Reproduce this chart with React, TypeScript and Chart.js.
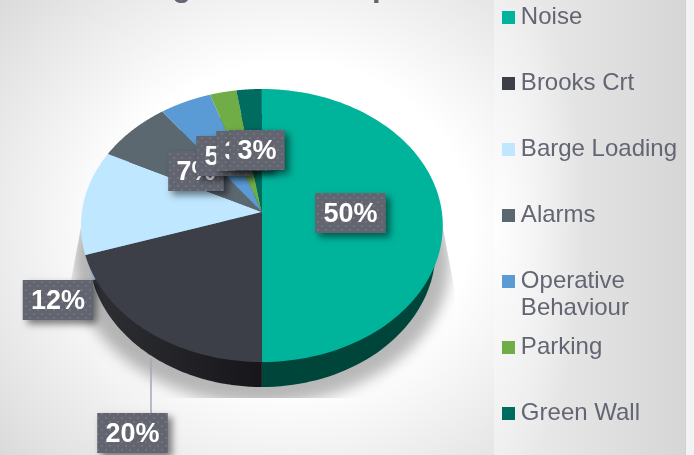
import React, { useEffect, useRef } from "react";
import { Chart, registerables } from "chart.js";

Chart.register(...registerables);

const categories = ["Noise", "Brooks Crt", "Barge Loading", "Alarms", "Operative Behaviour", "Parking", "Green Wall"];
const legendLines = [["Noise", ""], ["Brooks Crt", ""], ["Barge Loading", ""], ["Alarms", ""], ["Operative", "Behaviour"], ["Parking", ""], ["Green Wall", ""]];
const shares = [50, 20, 12.4, 7.4, 5.1, 2.6, 2.5];
const shareLabels = ["50%", "20%", "12%", "7%", "5%", "3%", "3%"];
const faceColors = ["#00b39b", "#3c3f48", "#bfe7ff", "#5c6870", "#5b9bd5", "#70ad47", "#006b5f"];
const wallFrom = ["#00453a", "#303136", "#8fb0c4", "#3c454b", "#3d6a92", "#4b7530", "#004239"];
const wallTo = ["#00453a", "#16161a", "#8fb0c4", "#3c454b", "#3d6a92", "#4b7530", "#004239"];
const labelCentres = [[350.5, 213], [132.5, 433], [58, 300], [196, 171], [224, 156], [244, 151], [257, 150]];
const titleText = "\u00a0\u00a0Ranking of Site Complaints";

const TEXT = "#636672";
const SHIFT_Y = 40;
const LIFT = -18;
const TILT = 0.0989;
const SQUASH = 0.751;
const DEPTH = 25;
const WALL_NARROW = 0.96;
const FONT = "'Liberation Sans', Arial, sans-serif";

function project(el: any, angle: number, narrow = 1, drop = 0) {
  const u = Math.cos(angle);
  const v = Math.sin(angle);
  const w = 1 - TILT * v;
  return {
    x: el.x + (el.outerRadius * u * narrow) / w,
    y: el.y + LIFT + drop + (el.outerRadius * SQUASH * v) / w,
  };
}

function tracePath(ctx: CanvasRenderingContext2D, el: any, narrow = 1, drop = 0) {
  ctx.beginPath();
  ctx.moveTo(el.x, el.y + LIFT + drop);
  const n = 96;
  for (let i = 0; i <= n; i++) {
    const p = project(el, el.startAngle + ((el.endAngle - el.startAngle) * i) / n, narrow, drop);
    ctx.lineTo(p.x, p.y);
  }
  ctx.closePath();
}

function dotPattern(ctx: CanvasRenderingContext2D) {
  const c = document.createElement("canvas");
  c.width = 8;
  c.height = 8;
  const g = c.getContext("2d")!;
  g.fillStyle = "rgba(150,152,165,0.3)";
  g.fillRect(1, 1, 2, 2);
  g.fillRect(5, 5, 2, 2);
  return ctx.createPattern(c, "repeat");
}

function legendSwatch(color: string) {
  const c = document.createElement("canvas");
  c.width = 13;
  c.height = 14;
  const g = c.getContext("2d")!;
  g.fillStyle = color;
  g.fillRect(0, 1, 13, 13);
  return c;
}

const tiltedPie = {
  id: "tiltedPie",
  beforeDatasetDraw(chart: any) {
    const ctx: CanvasRenderingContext2D = chart.ctx;
    const arcs = chart.getDatasetMeta(0).data;
    const c = arcs[0];
    const R = c.outerRadius;
    const top = c.y + LIFT + 10;
    const floor = 398 + SHIFT_Y;

    ctx.save();
    ctx.beginPath();
    ctx.moveTo(c.x - R, top);
    ctx.lineTo(c.x + R, top);
    ctx.lineTo(c.x + R + 13, top + 70);
    ctx.lineTo(c.x + R + 13, floor);
    ctx.lineTo(c.x - R - 13, floor);
    ctx.lineTo(c.x - R - 13, top + 70);
    ctx.closePath();
    ctx.clip();
    ctx.filter = "blur(7px)";
    ctx.fillStyle = "rgba(0,0,0,0.28)";
    ctx.beginPath();
    ctx.ellipse(c.x, c.y + LIFT + 50, R + 8, 142, 0, 0, Math.PI * 2);
    ctx.fill();
    ctx.restore();

    arcs.forEach((el: any, i: number) => {
      const grad = ctx.createLinearGradient(c.x - R, 0, c.x, 0);
      grad.addColorStop(0, wallFrom[i]);
      grad.addColorStop(1, wallTo[i]);
      ctx.fillStyle = grad;
      tracePath(ctx, el, WALL_NARROW, DEPTH);
      ctx.fill();
    });
    arcs.forEach((el: any, i: number) => {
      ctx.fillStyle = faceColors[i];
      tracePath(ctx, el);
      ctx.fill();
    });
    return false;
  },
  afterDatasetsDraw(chart: any) {
    const ctx: CanvasRenderingContext2D = chart.ctx;
    ctx.save();
    ctx.strokeStyle = "#a3a6b4";
    ctx.lineWidth = 1.5;
    ctx.beginPath();
    ctx.moveTo(labelCentres[1][0] + 18.5, 358 + SHIFT_Y);
    ctx.lineTo(labelCentres[1][0] + 18.5, labelCentres[1][1] - 20 + SHIFT_Y);
    ctx.stroke();

    const pattern = dotPattern(ctx);
    ctx.font = `bold 27px ${FONT}`;
    ctx.textAlign = "center";
    ctx.textBaseline = "middle";
    shareLabels.forEach((text, i) => {
      const w = ctx.measureText(text).width + 16.5;
      const h = 40;
      const cx = labelCentres[i][0];
      const cy = labelCentres[i][1] + SHIFT_Y;
      ctx.save();
      ctx.shadowColor = "rgba(0,0,0,0.5)";
      ctx.shadowBlur = 7;
      ctx.shadowOffsetX = 4;
      ctx.shadowOffsetY = 4;
      ctx.fillStyle = "#62646f";
      ctx.fillRect(cx - w / 2, cy - h / 2, w, h);
      ctx.restore();
      if (pattern) {
        ctx.fillStyle = pattern;
        ctx.fillRect(cx - w / 2, cy - h / 2, w, h);
      }
      ctx.fillStyle = "#ffffff";
      ctx.fillText(text, cx, cy + 2);
    });
    ctx.restore();
  },
};

export default function App() {
  const ref = useRef<HTMLCanvasElement>(null);

  useEffect(() => {
    const chart = new Chart(ref.current!, {
      type: "pie",
      data: {
        labels: categories,
        datasets: [{ data: shares, backgroundColor: faceColors, borderWidth: 0 }],
      },
      plugins: [tiltedPie],
      options: {
        animation: false,
        responsive: false,
        radius: 180,
        layout: { padding: { left: 27, top: 33, right: 7, bottom: 13 } },
        plugins: {
          tooltip: { enabled: false },
          title: {
            display: true,
            text: titleText,
            color: TEXT,
            fullSize: false,
            font: { family: FONT, size: 31, weight: "bold", lineHeight: 1.2 },
            padding: { top: -24, bottom: -15 },
          },
          legend: {
            display: true,
            position: "right",
            align: "start",
            labels: {
              usePointStyle: true,
              pointStyleWidth: 0.1,
              boxHeight: 13,
              padding: 12,
              color: TEXT,
              font: { family: FONT, size: 24, lineHeight: 27 / 24 },
              generateLabels: () =>
                legendLines.map((text, i) => ({
                  text,
                  fillStyle: faceColors[i],
                  strokeStyle: faceColors[i],
                  pointStyle: legendSwatch(faceColors[i]),
                  lineWidth: 0,
                  fontColor: TEXT,
                  index: i,
                  hidden: false,
                })),
            },
          },
        },
      },
    } as any);
    return () => chart.destroy();
  }, []);

  return (
    <div
      style={{
        position: "fixed",
        left: 0,
        top: 0,
        width: 694,
        height: 455,
        overflow: "hidden",
        background: "radial-gradient(ellipse 400px 360px at 290px 225px, #ffffff 45%, #d8d8d8 100%)",
      }}
    >
      <div
        style={{
          position: "absolute",
          left: 494,
          top: 0,
          width: 191,
          height: 455,
          background:
            "radial-gradient(ellipse 90px 260px at 0px 225px, rgba(255,255,255,0.95), rgba(255,255,255,0) 100%), linear-gradient(90deg, #eeeeee, #d6d6d6)",
        }}
      />
      <div
        style={{
          position: "absolute",
          left: 685,
          top: 0,
          width: 9,
          height: 455,
          background: "#f3f3f5",
          borderLeft: "1px solid #cfd0d6",
          boxSizing: "border-box",
        }}
      />
      <canvas
        ref={ref}
        width={694}
        height={520}
        style={{ position: "absolute", left: 0, top: -SHIFT_Y, width: 694, height: 520, display: "block" }}
      />
    </div>
  );
}
